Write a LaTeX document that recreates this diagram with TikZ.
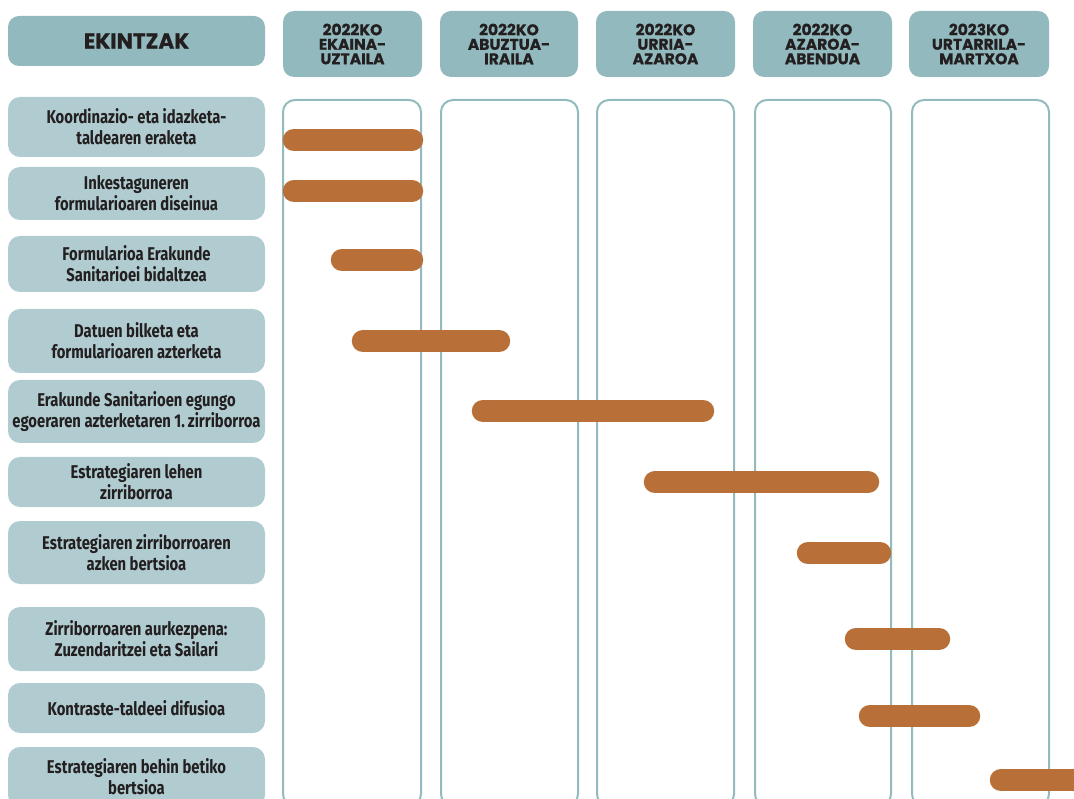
\documentclass[tikz,border=0pt]{standalone}
\usepackage{fontspec}
\setmainfont{Fira Sans}
\newfontfamily\actfont[FakeStretch=0.8]{Fira Sans}
\newfontfamily\headfont[BoldFeatures={FakeBold=0.6}]{Poppins}
\definecolor{headfill}{HTML}{92B9BD}
\definecolor{actfill}{HTML}{B0CCD0}
\definecolor{frame}{HTML}{93BABD}
\definecolor{rust}{HTML}{B87038}
\definecolor{ink}{HTML}{231F20}
\tikzset{
  headbox/.style={fill=headfill, rounded corners=11pt, minimum height=66pt,
    inner sep=0pt, text=ink, align=center,
    font=\headfont\bfseries\fontsize{15.5}{14.5}\selectfont},
  actbox/.style={fill=actfill, rounded corners=12pt, minimum width=257pt,
    inner sep=0pt, text=ink, align=center,
    font=\actfont\bfseries\fontsize{18.5}{21}\selectfont},
  colframe/.style={draw=frame, line width=2pt, rounded corners=12pt,
    inner sep=0pt, minimum height=706pt},
  bar/.style={draw=rust, line width=22.5pt, line cap=round},
}
\begin{document}
\begin{tikzpicture}[x=1pt,y=-1pt]
\useasboundingbox (0,0) rectangle (1074,799);
\clip (0,0) rectangle (1074,799);

% column headers
\node[headbox, minimum width=257pt, minimum height=50pt,
  font=\headfont\bfseries\fontsize{21.5}{22}\selectfont] (hact) at (136.5,41) {EKINTZAK};
\node[headbox, minimum width=139pt] (h1) at (352.5,44) {2022KO\\EKAINA-\\UZTAILA};
\node[headbox, minimum width=138pt] (h2) at (509,44) {2022KO\\ABUZTUA-\\IRAILA};
\node[headbox, minimum width=139pt] (h3) at (665.5,44) {2022KO\\URRIA-\\AZAROA};
\node[headbox, minimum width=139pt] (h4) at (822.5,44) {2022KO\\AZAROA-\\ABENDUA};
\node[headbox, minimum width=140pt] (h5) at (979,44) {2023KO\\URTARRILA-\\MARTXOA};

% period columns
\node[colframe, minimum width=138pt] (c1) at (352,453) {};
\node[colframe, minimum width=137pt] (c2) at (509.5,453) {};
\node[colframe, minimum width=137pt] (c3) at (665.5,453) {};
\node[colframe, minimum width=136pt] (c4) at (823,453) {};
\node[colframe, minimum width=137pt] (c5) at (980.5,453) {};

% activities
\node[actbox, minimum height=60pt] (a1) at (136.5,127) {Koordinazio- eta idazketa-\\taldearen eraketa};
\node[actbox, minimum height=53pt] (a2) at (136.5,193.5) {Inkestaguneren\\formularioaren diseinua};
\node[actbox, minimum height=56pt] (a3) at (136.5,264) {Formularioa Erakunde\\Sanitarioei bidaltzea};
\node[actbox, minimum height=64pt] (a4) at (136.5,341) {Datuen bilketa eta\\formularioaren azterketa};
\node[actbox, minimum height=63pt] (a5) at (136.5,411.5) {Erakunde Sanitarioen egungo\\egoeraren azterketaren 1.\,zirriborroa};
\node[actbox, minimum height=50pt] (a6) at (136.5,482) {Estrategiaren lehen\\zirriborroa};
\node[actbox, minimum height=63pt] (a7) at (136.5,552.5) {Estrategiaren zirriborroaren\\azken bertsioa};
\node[actbox, minimum height=64pt] (a8) at (136.5,639) {Zirriborroaren aurkezpena:\\Zuzendaritzei eta Sailari};
\node[actbox, minimum height=50pt] (a9) at (136.5,708) {Kontraste-taldeei difusioa};
\node[actbox, minimum height=60pt] (a10) at (136.5,777) {Estrategiaren behin betiko\\bertsioa};

% schedule bars
\draw[bar] (294,140) -- (412,140);
\draw[bar] (294,191) -- (412,191);
\draw[bar] (342,260) -- (412,260);
\draw[bar] (363,341) -- (499,341);
\draw[bar] (483,411) -- (703,411);
\draw[bar] (655,482) -- (868,482);
\draw[bar] (808,553) -- (880,553);
\draw[bar] (856,639) -- (939,639);
\draw[bar] (870,716) -- (969,716);
\draw[bar] (1001,780) -- (1090,780);
\end{tikzpicture}
\end{document}
